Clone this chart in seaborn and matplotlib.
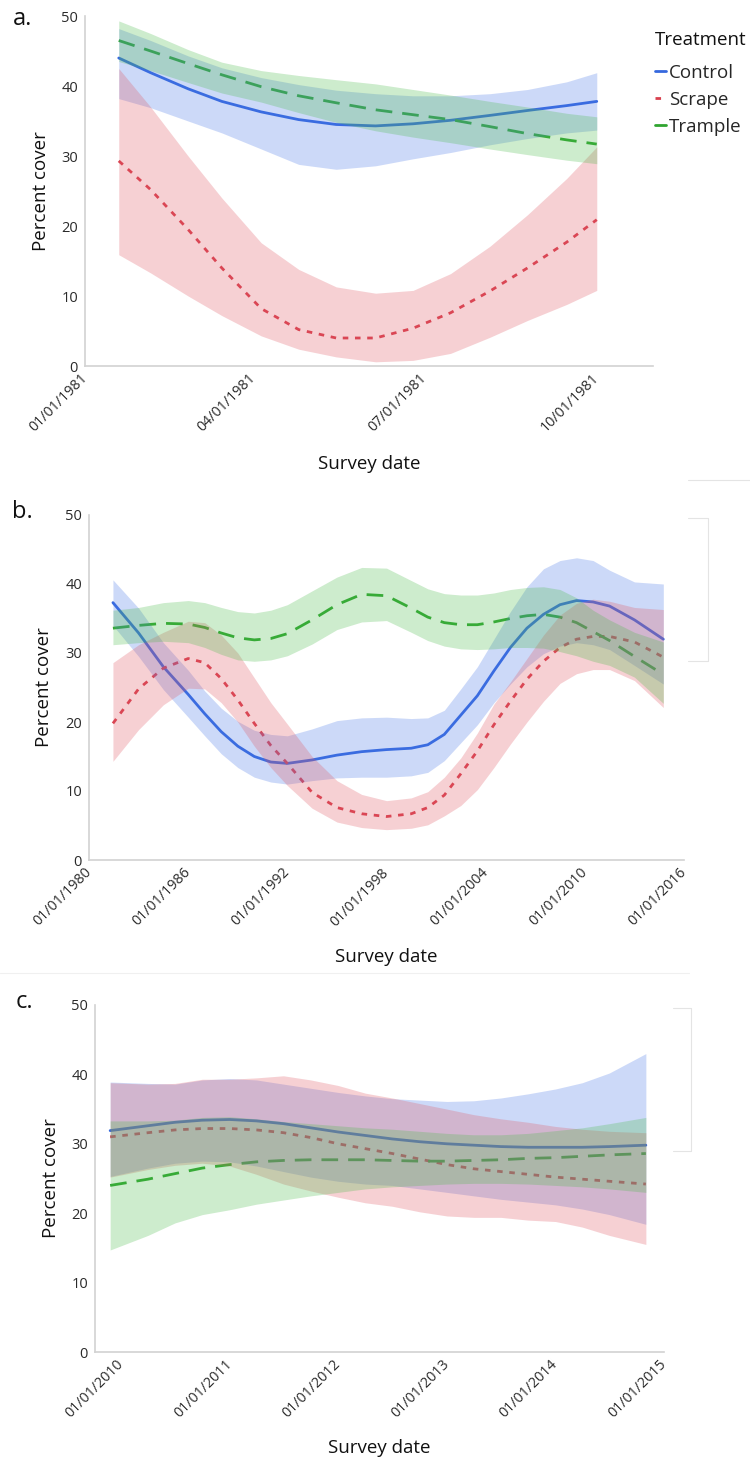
import numpy as np
import pandas as pd
import matplotlib
matplotlib.use("Agg")
import matplotlib.pyplot as plt
import matplotlib.dates as mdates
from matplotlib.lines import Line2D
from matplotlib.ticker import MultipleLocator
import seaborn as sns

# ---------------- data ----------------
TREATMENTS = ["Control", "Scrape", "Trample"]

# Panel a (1981)
a_dates = ["1981-01-19", "1981-02-05", "1981-02-25", "1981-03-15", "1981-04-05",
           "1981-04-25", "1981-05-15", "1981-06-05", "1981-06-25", "1981-07-15",
           "1981-08-05", "1981-08-25", "1981-09-15", "1981-10-01"]
a_control = [44.0, 41.9, 39.6, 37.8, 36.3, 35.2, 34.5, 34.3, 34.6, 35.1, 35.8, 36.5, 37.2, 37.8]
a_control_hi = [48.2, 46.5, 44.3, 42.6, 41.2, 40.2, 39.4, 38.9, 38.6, 38.6, 38.9, 39.5, 40.6, 41.9]
a_control_lo = [38.2, 36.9, 35.0, 33.3, 31.0, 28.8, 28.1, 28.6, 29.6, 30.5, 31.6, 32.5, 33.3, 33.7]
a_scrape = [29.3, 25.2, 19.5, 14.0, 8.2, 5.2, 4.0, 4.0, 5.4, 7.6, 10.7, 14.0, 17.7, 20.9]
a_scrape_hi = [42.5, 37.0, 30.0, 24.0, 17.6, 13.8, 11.3, 10.4, 10.8, 13.2, 17.1, 21.6, 26.8, 31.3]
a_scrape_lo = [15.9, 13.3, 10.0, 7.2, 4.3, 2.4, 1.3, 0.6, 0.8, 1.8, 4.1, 6.5, 8.8, 10.8]
a_trample = [46.5, 45.0, 43.2, 41.6, 39.9, 38.6, 37.6, 36.6, 35.9, 35.2, 34.2, 33.2, 32.3, 31.7]
a_trample_hi = [49.3, 47.5, 45.2, 43.4, 42.2, 41.5, 40.9, 40.3, 39.5, 38.7, 37.8, 37.0, 36.1, 35.6]
a_trample_lo = [43.5, 42.2, 40.5, 39.0, 37.7, 36.2, 34.8, 33.6, 32.7, 31.9, 31.0, 30.2, 29.4, 28.9]
a_xlim = ("1981-01-01", "1981-10-31")

# Panel b (1980-2016)
b_dates = ["1981-06-13", "1983-01-01", "1984-07-01", "1986-01-01", "1987-01-01",
           "1988-01-01", "1989-01-01", "1990-01-01", "1991-01-01", "1992-01-01",
           "1993-07-01", "1995-01-01", "1996-07-01", "1998-01-01", "1999-07-01",
           "2000-07-01", "2001-07-01", "2002-07-01", "2003-07-01", "2004-07-01",
           "2005-07-01", "2006-07-01", "2007-07-01", "2008-07-01", "2009-07-01",
           "2010-07-01", "2011-07-01", "2013-01-01", "2014-10-01"]
b_control = [37.3, 32.9, 28.0, 24.0, 21.2, 18.6, 16.5, 15.0, 14.2, 14.0,
             14.5, 15.2, 15.7, 16.0, 16.2, 16.7, 18.2, 21.0, 23.8, 27.4,
             30.8, 33.6, 35.6, 37.0, 37.6, 37.4, 36.8, 34.8, 32.0]
b_control_hi = [40.6, 36.5, 31.5, 27.5, 24.5, 22.0, 20.1, 18.8, 18.2, 18.0,
                19.0, 20.2, 20.6, 20.7, 20.5, 20.6, 21.7, 24.8, 28.0, 32.0,
                36.0, 39.6, 42.2, 43.4, 43.8, 43.4, 42.0, 40.3, 40.0]
b_control_lo = [34.0, 29.5, 24.7, 20.7, 18.0, 15.4, 13.4, 12.0, 11.3, 11.0,
                11.5, 11.9, 12.0, 12.0, 12.2, 12.7, 14.4, 17.0, 19.6, 22.8,
                25.5, 28.0, 29.9, 31.0, 31.5, 31.2, 30.5, 28.2, 25.5]
b_scrape = [19.8, 24.8, 27.8, 29.2, 28.6, 26.3, 23.2, 19.8, 16.6, 14.0,
            9.8, 7.6, 6.7, 6.3, 6.7, 7.6, 9.4, 12.5, 15.8, 19.6,
            23.0, 26.2, 28.8, 30.8, 32.0, 32.4, 32.4, 31.6, 29.4]
b_scrape_hi = [28.6, 31.2, 33.0, 34.6, 34.4, 32.6, 30.0, 26.4, 22.8, 19.7,
               15.0, 11.5, 9.5, 8.6, 9.0, 9.9, 12.0, 14.8, 18.4, 22.6,
               25.8, 29.2, 32.6, 35.5, 37.2, 37.8, 37.5, 36.6, 36.3]
b_scrape_lo = [14.3, 18.9, 22.5, 24.9, 24.8, 22.8, 20.0, 16.5, 13.4, 10.8,
               7.5, 5.5, 4.7, 4.4, 4.6, 5.1, 6.4, 7.9, 10.2, 13.4,
               16.8, 20.0, 23.0, 25.6, 27.0, 27.6, 27.6, 26.0, 22.1]
b_trample = [33.6, 34.0, 34.3, 34.2, 33.7, 32.9, 32.2, 31.9, 32.1, 32.8,
             34.8, 37.0, 38.5, 38.3, 36.5, 35.2, 34.4, 34.1, 34.1, 34.5,
             35.0, 35.4, 35.6, 35.2, 34.4, 33.1, 31.8, 29.5, 26.9]
b_trample_hi = [36.2, 36.6, 37.3, 37.6, 37.3, 36.6, 36.0, 35.8, 36.2, 37.0,
                39.0, 41.0, 42.4, 42.3, 40.5, 39.3, 38.6, 38.4, 38.4, 38.7,
                39.2, 39.5, 39.6, 39.2, 38.0, 36.2, 34.8, 33.0, 31.6]
b_trample_lo = [31.2, 31.5, 31.7, 31.5, 30.8, 29.8, 29.0, 28.8, 29.0, 29.6,
                31.3, 33.4, 34.5, 34.7, 33.0, 31.8, 31.0, 30.6, 30.5, 30.6,
                30.8, 30.8, 30.7, 30.2, 29.6, 28.8, 28.2, 26.5, 22.7]
b_xlim = ("1980-01-01", "2016-01-01")

# Panel c (2010-2015)
c_dates = ["2009-11-25", "2010-04-01", "2010-07-01", "2010-10-01", "2011-01-01",
           "2011-04-01", "2011-07-01", "2011-10-01", "2012-01-01", "2012-04-01",
           "2012-07-01", "2012-10-01", "2013-01-01", "2013-04-01", "2013-07-01",
           "2013-10-01", "2014-01-01", "2014-04-01", "2014-07-01", "2014-11-01"]
c_control = [31.9, 32.6, 33.1, 33.4, 33.5, 33.3, 32.9, 32.3, 31.7, 31.2, 30.7, 30.3,
             30.0, 29.8, 29.6, 29.5, 29.5, 29.5, 29.6, 29.8]
c_control_hi = [38.9, 38.7, 38.6, 39.2, 39.4, 39.2, 38.6, 38.0, 37.4, 36.9, 36.5, 36.3,
                36.1, 36.2, 36.6, 37.2, 37.9, 38.8, 40.2, 43.0]
c_control_lo = [25.3, 26.5, 27.2, 27.5, 27.4, 26.8, 26.0, 25.2, 24.6, 24.2, 24.0, 23.5,
                23.0, 22.5, 22.0, 21.6, 21.2, 20.6, 19.8, 18.4]
c_scrape = [31.0, 31.6, 32.0, 32.2, 32.2, 32.0, 31.6, 30.9, 30.0, 29.3, 28.6, 27.8,
            27.0, 26.4, 26.0, 25.6, 25.2, 24.9, 24.6, 24.2]
c_scrape_hi = [38.8, 38.6, 38.7, 39.3, 39.3, 39.5, 39.8, 39.2, 38.4, 37.3, 36.6, 35.8,
               35.0, 34.2, 33.6, 33.1, 32.5, 32.1, 31.8, 31.6]
c_scrape_lo = [25.2, 26.3, 26.9, 27.2, 26.8, 25.6, 24.2, 23.2, 22.3, 21.5, 21.0, 20.2,
               19.6, 19.4, 19.4, 19.0, 18.8, 18.0, 16.8, 15.5]
c_trample = [24.0, 24.9, 25.7, 26.5, 27.0, 27.4, 27.6, 27.7, 27.7, 27.7, 27.6, 27.5,
             27.5, 27.6, 27.7, 27.9, 28.0, 28.2, 28.4, 28.6]
c_trample_hi = [33.3, 33.3, 33.4, 33.8, 33.9, 33.6, 33.2, 32.9, 32.6, 32.3, 32.1, 31.8,
                31.5, 31.3, 31.3, 31.5, 31.9, 32.3, 32.9, 33.8]
c_trample_lo = [14.7, 16.8, 18.6, 19.8, 20.5, 21.3, 21.9, 22.5, 23.0, 23.5, 23.8, 24.0,
                24.2, 24.3, 24.3, 24.2, 24.0, 23.8, 23.5, 23.0]
c_xlim = ("2009-10-05", "2015-01-01")

Y_TICKS = [0, 10, 20, 30, 40, 50]

# ---------------- style ----------------
LINE_COLORS = {"Control": "#3568de", "Scrape": "#d8404e", "Trample": "#30a530"}
BAND_COLORS = {"Control": "#4a78e8", "Scrape": "#e05864", "Trample": "#4cbb4c"}
DASHES = {"Control": "", "Scrape": (2.0, 2.4), "Trample": (6.0, 3.6)}
BAND_ALPHA = 0.28

sns.set_style("white")
plt.rcParams["font.family"] = ["Open Sans", "DejaVu Sans"]

W, H = 750, 1465
fig = plt.figure(figsize=(W / 100, H / 100), dpi=100)


def px_axes(left, right, top, bottom):
    return fig.add_axes([left / W, 1 - bottom / H, (right - left) / W, (bottom - top) / H])


panels = [
    dict(ax=px_axes(85, 653, 16, 366), dates=a_dates,
         vals={"Control": (a_control, a_control_lo, a_control_hi),
               "Scrape": (a_scrape, a_scrape_lo, a_scrape_hi),
               "Trample": (a_trample, a_trample_lo, a_trample_hi)},
         xlim=a_xlim, major=mdates.MonthLocator(bymonth=[1, 4, 7, 10]), minor=None,
         label="a.", lab_xy=(13, 25), ylab_x=-0.062, xlab_y=-0.255),
    dict(ax=px_axes(89, 684, 515, 860), dates=b_dates,
         vals={"Control": (b_control, b_control_lo, b_control_hi),
               "Scrape": (b_scrape, b_scrape_lo, b_scrape_hi),
               "Trample": (b_trample, b_trample_lo, b_trample_hi)},
         xlim=b_xlim, major=mdates.YearLocator(base=6), minor=None,
         label="b.", lab_xy=(12, 518), ylab_x=-0.061, xlab_y=-0.256),
    dict(ax=px_axes(95, 664, 1005, 1352), dates=c_dates,
         vals={"Control": (c_control, c_control_lo, c_control_hi),
               "Scrape": (c_scrape, c_scrape_lo, c_scrape_hi),
               "Trample": (c_trample, c_trample_lo, c_trample_hi)},
         xlim=c_xlim, major=mdates.YearLocator(base=1), minor=mdates.MonthLocator(),
         label="c.", lab_xy=(16, 1008), ylab_x=-0.062, xlab_y=-0.25),
]

for p in panels:
    ax = p["ax"]
    dts = pd.to_datetime(p["dates"])
    rows = []
    for t in TREATMENTS:
        m, lo, hi = p["vals"][t]
        rows.append(pd.DataFrame({"Survey date": dts, "Percent cover": m, "Treatment": t}))
    df = pd.concat(rows, ignore_index=True)
    sns.lineplot(data=df, x="Survey date", y="Percent cover", hue="Treatment",
                 style="Treatment", hue_order=TREATMENTS, style_order=TREATMENTS,
                 palette=LINE_COLORS, dashes=DASHES, linewidth=2.0, legend=False,
                 ax=ax, zorder=2)
    for t in TREATMENTS:
        m, lo, hi = p["vals"][t]
        ax.fill_between(dts, lo, hi, color=BAND_COLORS[t], alpha=BAND_ALPHA,
                        linewidth=0, zorder=3)

    ax.set_xlim(pd.Timestamp(p["xlim"][0]), pd.Timestamp(p["xlim"][1]))
    ax.set_ylim(0, 50)
    ax.set_yticks(Y_TICKS)
    ax.yaxis.set_minor_locator(MultipleLocator(5))
    ax.xaxis.set_major_locator(p["major"])
    ax.xaxis.set_major_formatter(mdates.DateFormatter("%m/%d/%Y"))
    if p["minor"] is not None:
        ax.xaxis.set_minor_locator(p["minor"])
    for s in ["top", "right"]:
        ax.spines[s].set_visible(False)
    for s in ["left", "bottom"]:
        ax.spines[s].set_color("#d2d2d2")
        ax.spines[s].set_linewidth(1.2)
    ax.tick_params(axis="both", which="major", length=3.5, width=1, color="#c8c8c8",
                   labelsize=10.5, labelcolor="#2a2a2a", pad=1.5, direction="out")
    ax.tick_params(axis="both", which="minor", length=2.5, width=0.8, color="#d2d2d2",
                   direction="out")
    ax.tick_params(axis="x", which="major", pad=4, labelsize=10.3)
    ax.set_ylabel("Percent cover", fontsize=13.5, color="#111111")
    ax.set_xlabel("Survey date", fontsize=13.5, color="#111111")
    ax.yaxis.set_label_coords(p["ylab_x"], 0.5)
    ax.xaxis.set_label_coords(0.5, p["xlab_y"])
    ax.grid(False)
    fig.text(p["lab_xy"][0] / W, 1 - p["lab_xy"][1] / H, p["label"], fontsize=17,
             va="baseline", ha="left", color="#111111")

fig.canvas.draw()
for p in panels:
    ax = p["ax"]
    for lab in ax.get_xticklabels():
        lab.set_rotation(45)
        lab.set_ha("right")
        lab.set_va("center")
        lab.set_rotation_mode("anchor")

# legend in panel a (title drawn as its own text, entries as a legend)
ax0 = panels[0]["ax"]
fig.text(655 / W, 1 - 40 / H, "Treatment", fontsize=13.5, ha="left", va="center",
         color="#111111")
handles = [Line2D([], [], color=LINE_COLORS["Control"], lw=2.0),
           Line2D([], [], color=LINE_COLORS["Scrape"], lw=2.0, dashes=DASHES["Scrape"]),
           Line2D([], [], color=LINE_COLORS["Trample"], lw=2.0)]
leg = ax0.legend(handles, TREATMENTS, loc="upper left",
                 bbox_to_anchor=((655 - 85) / 568, (366 - 64) / 350), frameon=False,
                 fontsize=13.5, handlelength=0.6, handletextpad=0.15,
                 labelspacing=0.48, borderaxespad=0, borderpad=0)

# faint remnants of cropped frames
def fline(x0, y0, x1, y1, c="#e4e4e4"):
    fig.add_artist(Line2D([x0 / W, x1 / W], [1 - y0 / H, 1 - y1 / H],
                          transform=fig.transFigure, color=c, lw=0.8))

fline(688, 480, 750, 480)
fline(688, 518, 708, 518)
fline(708, 518, 708, 661)
fline(688, 661, 708, 661)
fline(0, 973, 689, 973, c="#f0f0f0")
fline(673, 1008, 691, 1008)
fline(691, 1008, 691, 1151)
fline(673, 1151, 691, 1151)

fig.savefig("out.png", dpi=100)
